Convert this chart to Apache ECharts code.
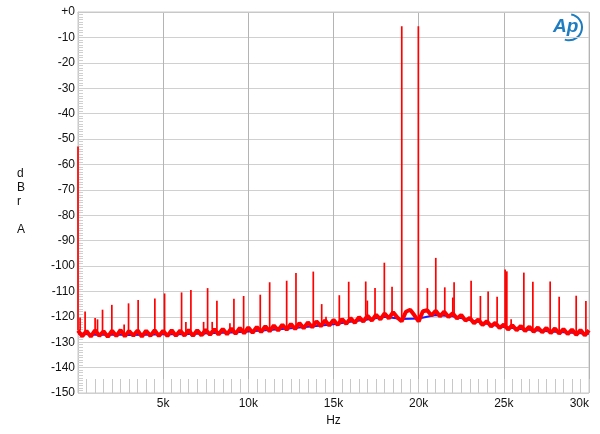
<!DOCTYPE html>
<html>
<head>
<meta charset="utf-8">
<script src="https://cdn.jsdelivr.net/npm/echarts@6/dist/echarts.min.js"></script>
<style>html,body{margin:0;padding:0;background:#fff}#c{width:600px;height:434px}</style>
</head>
<body>
<div id="c"></div>
<script>
// Noise floor (red) sampled every FLOOR_STEP Hz from 0 Hz, dBr A
const FLOOR_STEP = 250;
const redFloor = [
-125.4,-127.7,-125.6,-127.8,-125.3,-127.5,-125.7,-127.9,-125.5,-127.6,
-125.2,-127.7,-125.6,-127.4,-125.4,-127.8,-125.5,-127.5,-125.3,-127.6,
-125.5,-127.6,-125.3,-127.5,-125.4,-127.4,-125.2,-127.5,-125.3,-127.3,
-125.1,-127.1,-124.9,-127.0,-124.8,-126.9,-124.6,-126.7,-124.4,-126.5,
-124.2,-126.3,-124.0,-126.0,-123.7,-125.7,-123.4,-125.4,-123.1,-125.1,
-122.8,-124.8,-122.5,-124.5,-122.2,-124.1,-121.8,-123.7,-121.4,-123.4,
-121.2,-123.2,-120.9,-122.8,-120.5,-122.4,-120.1,-121.9,-119.6,-121.5,
-119.2,-121.0,-118.7,-120.6,-118.2,-120.3,-121.8,-118.0,-117.2,-119.4,
-121.8,-117.8,-117.4,-119.5,-117.6,-119.8,-118.0,-120.1,-118.6,-120.7,
-119.3,-121.5,-120.4,-122.6,-121.0,-123.2,-121.7,-123.8,-122.3,-124.4,
-123.0,-125.0,-123.3,-125.3,-123.6,-125.6,-123.9,-125.9,-124.2,-126.1,
-124.4,-126.4,-124.6,-126.6,-124.8,-126.8,-125.0,-127.1,-125.2,-127.3,
-125.3
];
// Blue channel floor, every BLUE_STEP Hz
const BLUE_STEP = 1000;
const blueFloor = [
-126.6,-127.1,-127.0,-127.2,-127.1,-126.9,-126.9,-126.7,-126.4,-126.2,
-125.8,-125.3,-124.8,-124.2,-123.6,-122.9,-122.0,-121.1,-120.0,-120.9,
-120.7,-119.3,-119.8,-121.3,-122.7,-124.0,-124.8,-125.4,-125.9,-126.3,
-126.7
];
// Spurious tones: frequency (Hz) and peak level (dBr A)
const spikeFreq = [0,123,417,1005,1146,1440,1986,2709,2967,3531,4512,5082,6081,6334,6628,7374,
  7609,7879,8155,8919,9154,9724,10700,11252,12251,12797,13813,14307,14560,
  15341,15893,16892,16986,17438,17985,18437,19007,19982,20511,21005,21533,22004,22080,
  23079,23625,24078,24606,25076,25176,25429,26175,26704,27720,28249,29248,29818];
const spikePeak = [-53,-120.3,-117.9,-120.5,-121,-117.2,-115.3,-123,-114.7,-113.4,-112.8,-110.8,-110.4,-122,-109.4,-122,
  -108.7,-122,-113.7,-122.5,-112.9,-111.8,-111.3,-106.4,-105.8,-102.8,-102.2,-115,-120,
  -111.5,-106.2,-106.1,-113.6,-108.7,-98.7,-108.2,-5.6,-5.6,-108.7,-96.8,-108.4,-112.4,-106.4,
  -105.8,-111.8,-110,-112.1,-101.4,-102.1,-121,-102.6,-106.2,-106.1,-112.1,-111.7,-113.8];
const xTicks = ['', '5k', '10k', '15k', '20k', '25k', '30k'];

const redData = redFloor.map((v, i) => [i * FLOOR_STEP, v]);
const blueData = blueFloor.map((v, i) => [i * BLUE_STEP, v]);
const spikeData = spikeFreq.map((f, i) => [f, redFloor[Math.round(f / FLOOR_STEP)], spikePeak[i]]);

const chart = echarts.init(document.getElementById('c'), null, {renderer: 'canvas'});
const font = 'Liberation Sans, Arial, sans-serif';
chart.setOption({
  animation: false,
  backgroundColor: '#ffffff',
  grid: {left: 78, right: 11, top: 12, bottom: 41, show: true, borderColor: '#c8c8c8', borderWidth: 1},
  xAxis: [{
    type: 'value', min: 0, max: 30000, interval: 5000,
    name: 'Hz', nameLocation: 'middle', nameGap: 22,
    nameTextStyle: {fontFamily: font, fontSize: 12, color: '#111'},
    axisLine: {show: true, lineStyle: {color: '#c8c8c8'}},
    axisTick: {show: false},
    minorTick: {show: false},
    axisLabel: {fontFamily: font, fontSize: 12, color: '#111', margin: 5, alignMaxLabel: 'right',
      formatter: v => xTicks[Math.round(v / 5000)] || ''},
    splitLine: {show: true, lineStyle: {color: '#b4b4b4', width: 1}}
  }, {
    type: 'value', min: 0, max: 30000, interval: 500, position: 'bottom',
    axisLine: {show: false}, axisLabel: {show: false}, splitLine: {show: false},
    axisTick: {show: true, inside: true, length: 14, lineStyle: {color: '#c8c8c8', width: 1}}
  }],
  yAxis: {
    type: 'value', min: -150, max: 0, interval: 10,
    axisLine: {show: true, lineStyle: {color: '#c8c8c8'}},
    axisTick: {show: false, inside: false, length: -5},
    minorTick: {show: true, splitNumber: 10, length: -5, lineStyle: {color: '#d0d0d0', width: 1}},
    axisLabel: {fontFamily: font, fontSize: 12, color: '#111', margin: 3,
      formatter: v => (v === 0 ? '+0' : String(v))},
    splitLine: {show: true, lineStyle: {color: '#d0d0d0', width: 1}}
  },
  graphic: [
    {type: 'text', left: 17, top: 167, style: {text: 'd\nB\nr\n\nA', fontFamily: font, fontSize: 12, fill: '#111', lineHeight: 14, align: 'center'}},
    {type: 'group', left: 553, top: 12, children: [
      {type: 'text', x: 3, y: 3, style: {text: 'Ap', fontFamily: font, fontSize: 19, fontStyle: 'italic', fontWeight: 'bold', fill: '#1e7cc0'}},
      {type: 'arc', shape: {cx: 19, cy: 13, r: 13, startAngle: -1.4, endAngle: 1.9}, style: {stroke: '#1e7cc0', lineWidth: 2, fill: null}}
    ]}
  ],
  series: [
    {type: 'line', data: blueData, showSymbol: false, symbol: 'none', lineStyle: {color: '#1a1aff', width: 2}, z: 2},
    {type: 'line', data: redData, showSymbol: false, symbol: 'none', lineStyle: {color: '#ff0000', width: 4, join: 'bevel'}, z: 3},
    {type: 'custom', data: spikeData, encode: {x: 0, y: [1, 2]}, clip: false, z: 4,
      renderItem: (params, api) => {
        const p0 = api.coord([api.value(0), api.value(1)]);
        const p1 = api.coord([api.value(0), api.value(2)]);
        return {type: 'line', shape: {x1: p0[0], y1: p0[1], x2: p1[0], y2: p1[1]},
          style: {stroke: '#ff0000', lineWidth: 1.7}};
      }}
  ]
});
</script>
</body>
</html>
